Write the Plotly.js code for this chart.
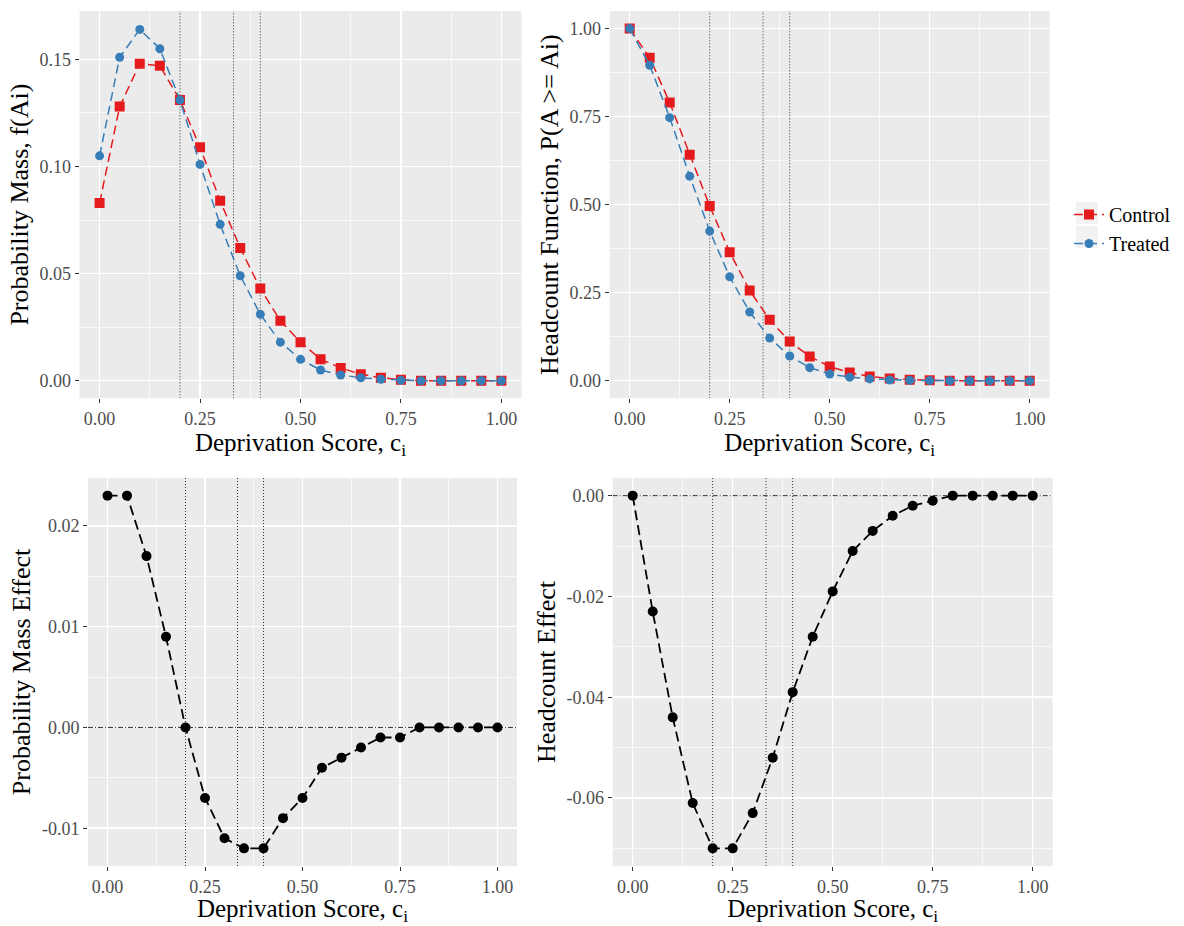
<!DOCTYPE html>
<html>
<head>
<meta charset="utf-8">
<script src="https://cdn.plot.ly/plotly-3.0.1.min.js"></script>
<style>
  html, body { margin: 0; padding: 0; background: #ffffff; }
  #chart { width: 1184px; height: 926px; }
</style>
</head>
<body>
<div id="chart"></div>
<script>
// ---------------- Data ----------------
const scores = [0.00, 0.05, 0.10, 0.15, 0.20, 0.25, 0.30, 0.35, 0.40, 0.45, 0.50,
                0.55, 0.60, 0.65, 0.70, 0.75, 0.80, 0.85, 0.90, 0.95, 1.00];

const controlMass = [0.083, 0.128, 0.148, 0.147, 0.131, 0.109, 0.084, 0.062, 0.043, 0.028, 0.018,
                     0.010, 0.006, 0.003, 0.0014, 0.0005, 0, 0, 0, 0, 0];
const treatedMass = [0.105, 0.151, 0.164, 0.155, 0.131, 0.101, 0.073, 0.049, 0.031, 0.018, 0.010,
                     0.005, 0.0027, 0.0014, 0.0007, 0.0002, 0, 0, 0, 0, 0];

const controlHeadcount = [1.000, 0.917, 0.790, 0.642, 0.496, 0.365, 0.256, 0.173, 0.111, 0.069, 0.040,
                          0.023, 0.012, 0.006, 0.003, 0.001, 0, 0, 0, 0, 0];
const treatedHeadcount = [1.000, 0.896, 0.747, 0.581, 0.425, 0.295, 0.195, 0.121, 0.070, 0.037, 0.019,
                          0.010, 0.005, 0.002, 0.001, 0.0003, 0, 0, 0, 0, 0];

const massEffect = [0.023, 0.023, 0.017, 0.009, 0.000, -0.007, -0.011, -0.012, -0.012, -0.009, -0.007,
                    -0.004, -0.003, -0.002, -0.001, -0.001, 0, 0, 0, 0, 0];
const headcountEffect = [0, -0.023, -0.044, -0.061, -0.070, -0.070, -0.063, -0.052, -0.039, -0.028, -0.019,
                         -0.011, -0.007, -0.004, -0.002, -0.001, 0, 0, 0, 0, 0];

const cutoffs = [0.2, 0.3333, 0.4];

const xRange = [-0.05, 1.05];
const xTickVals = [0, 0.25, 0.5, 0.75, 1];
const xTickText = ['0.00', '0.25', '0.50', '0.75', '1.00'];
const xMinor = [0.125, 0.375, 0.625, 0.875];

const massRange = [-0.0082, 0.1726];
const massTickVals = [0, 0.05, 0.10, 0.15];
const massTickText = ['0.00', '0.05', '0.10', '0.15'];
const massMinor = [0.025, 0.075, 0.125];

const hcRange = [-0.05, 1.05];
const hcTickVals = [0, 0.25, 0.5, 0.75, 1];
const hcTickText = ['0.00', '0.25', '0.50', '0.75', '1.00'];
const hcMinor = [0.125, 0.375, 0.625, 0.875];

const meRange = [-0.01375, 0.02475];
const meTickVals = [-0.01, 0, 0.01, 0.02];
const meTickText = ['-0.01', '0.00', '0.01', '0.02'];
const meMinor = [-0.005, 0.005, 0.015];

const heRange = [-0.0735, 0.0035];
const heTickVals = [-0.06, -0.04, -0.02, 0];
const heTickText = ['-0.06', '-0.04', '-0.02', '0.00'];
const heMinor = [-0.07, -0.05, -0.03, -0.01];

// ---------------- Styling ----------------
const FONT = 'Liberation Serif, Times New Roman, serif';
const RED = '#E41A1C';
const BLUE = '#377EB8';
const W = 1184, H = 926;

function dom(a, b, total) { return [a / total, b / total]; }
function ydom(top, bottom) { return [1 - bottom / H, 1 - top / H]; }

function axisBase(extra) {
  return Object.assign({
    showgrid: true, gridcolor: '#FFFFFF', gridwidth: 1.5,
    zeroline: false, showline: false,
    ticks: 'outside', ticklen: 4, tickwidth: 1, tickcolor: '#333333',
    tickfont: { family: FONT, size: 18, color: '#4D4D4D' },
    tickmode: 'array', fixedrange: true
  }, extra);
}

function xAxis(domain, anchor, standoff) {
  return axisBase({
    domain: domain, anchor: anchor, range: xRange,
    tickvals: xTickVals, ticktext: xTickText,
    minor: { tickvals: xMinor, showgrid: true, gridcolor: '#FFFFFF', gridwidth: 0.7 },
    title: { text: 'Deprivation Score, c<sub>i</sub>', font: { family: FONT, size: 25, color: '#000' }, standoff: standoff }
  });
}
function yAxis(domain, anchor, range, tv, tt, minor, title) {
  return axisBase({
    domain: domain, anchor: anchor, range: range,
    tickvals: tv, ticktext: tt,
    minor: { tickvals: minor, showgrid: true, gridcolor: '#FFFFFF', gridwidth: 0.7 },
    title: { text: title, font: { family: FONT, size: 26, color: '#000' }, standoff: 3 }
  });
}

const traces = [];

// reference lines (drawn first so data marks sit on top)
const panels = [['x', 'y', massRange], ['x2', 'y2', hcRange], ['x3', 'y3', meRange], ['x4', 'y4', heRange]];
panels.forEach(function (p) {
  cutoffs.forEach(function (c) {
    traces.push({ x: [c, c], y: p[2], xaxis: p[0], yaxis: p[1], type: 'scatter', mode: 'lines',
      showlegend: false, hoverinfo: 'skip',
      line: { color: '#333333', width: 1, dash: '1px,2px' } });
  });
});
[['x3', 'y3'], ['x4', 'y4']].forEach(function (p) {
  traces.push({ x: xRange, y: [0, 0], xaxis: p[0], yaxis: p[1], type: 'scatter', mode: 'lines',
    showlegend: false, hoverinfo: 'skip',
    line: { color: '#333333', width: 1, dash: '5px,2px,1px,2px' } });
});

traces.push(
  { x: scores, y: controlMass, xaxis: 'x', yaxis: 'y', type: 'scatter', mode: 'lines+markers',
    name: 'Control', legendgroup: 'c', showlegend: true,
    line: { color: RED, width: 1.5, dash: '9px,5px' },
    marker: { symbol: 'square', size: 10, color: RED } },
  { x: scores, y: treatedMass, xaxis: 'x', yaxis: 'y', type: 'scatter', mode: 'lines+markers',
    name: 'Treated', legendgroup: 't', showlegend: true,
    line: { color: BLUE, width: 1.5, dash: '9px,5px' },
    marker: { symbol: 'circle', size: 9, color: BLUE } },
  { x: scores, y: controlHeadcount, xaxis: 'x2', yaxis: 'y2', type: 'scatter', mode: 'lines+markers',
    name: 'Control', legendgroup: 'c', showlegend: false,
    line: { color: RED, width: 1.5, dash: '9px,5px' },
    marker: { symbol: 'square', size: 10, color: RED } },
  { x: scores, y: treatedHeadcount, xaxis: 'x2', yaxis: 'y2', type: 'scatter', mode: 'lines+markers',
    name: 'Treated', legendgroup: 't', showlegend: false,
    line: { color: BLUE, width: 1.5, dash: '9px,5px' },
    marker: { symbol: 'circle', size: 9, color: BLUE } },
  { x: scores, y: massEffect, xaxis: 'x3', yaxis: 'y3', type: 'scatter', mode: 'lines+markers',
    name: 'Probability Mass Effect', showlegend: false,
    line: { color: '#000000', width: 1.8, dash: '10px,5px' },
    marker: { symbol: 'circle', size: 10, color: '#000000' } },
  { x: scores, y: headcountEffect, xaxis: 'x4', yaxis: 'y4', type: 'scatter', mode: 'lines+markers',
    name: 'Headcount Effect', showlegend: false,
    line: { color: '#000000', width: 1.8, dash: '10px,5px' },
    marker: { symbol: 'circle', size: 10, color: '#000000' } }
);

// legend key backgrounds (ggplot style)
const shapes = [
  { type: 'rect', xref: 'paper', yref: 'paper', layer: 'below',
    x0: 1076 / W, x1: 1098 / W, y0: 1 - 224 / H, y1: 1 - 202 / H, fillcolor: '#F2F2F2', line: { width: 0 } },
  { type: 'rect', xref: 'paper', yref: 'paper', layer: 'below',
    x0: 1076 / W, x1: 1098 / W, y0: 1 - 248 / H, y1: 1 - 226 / H, fillcolor: '#F2F2F2', line: { width: 0 } }
];

const topY = ydom(11, 398.3);
const botY = ydom(478, 866);

const layout = {
  width: W, height: H,
  margin: { l: 0, r: 0, t: 0, b: 0 },
  paper_bgcolor: '#FFFFFF', plot_bgcolor: '#EBEBEB',
  font: { family: FONT, color: '#000' },
  showlegend: true,
  legend: {
    x: 1069 / W, y: 1 - 195 / H, xanchor: 'left', yanchor: 'top',
    bgcolor: 'rgba(0,0,0,0)', borderwidth: 0,
    font: { family: FONT, size: 20, color: '#000' },
    itemwidth: 30, tracegroupgap: 0
  },
  xaxis: xAxis(dom(79.5, 521.5, W), 'y', 4),
  yaxis: yAxis(topY, 'x', massRange, massTickVals, massTickText, massMinor, 'Probability Mass, f(Ai)'),
  xaxis2: xAxis(dom(609.7, 1049.7, W), 'y2', 4),
  yaxis2: yAxis(topY, 'x2', hcRange, hcTickVals, hcTickText, hcMinor, 'Headcount Function, P(A >= Ai)'),
  xaxis3: xAxis(dom(88, 517, W), 'y3', 4),
  yaxis3: yAxis(botY, 'x3', meRange, meTickVals, meTickText, meMinor, 'Probability Mass Effect'),
  xaxis4: xAxis(dom(612.7, 1052.7, W), 'y4', 4),
  yaxis4: yAxis(botY, 'x4', heRange, heTickVals, heTickText, heMinor, 'Headcount Effect'),
  shapes: shapes
};

Plotly.newPlot('chart', traces, layout, { displayModeBar: false, staticPlot: true });
</script>
</body>
</html>
